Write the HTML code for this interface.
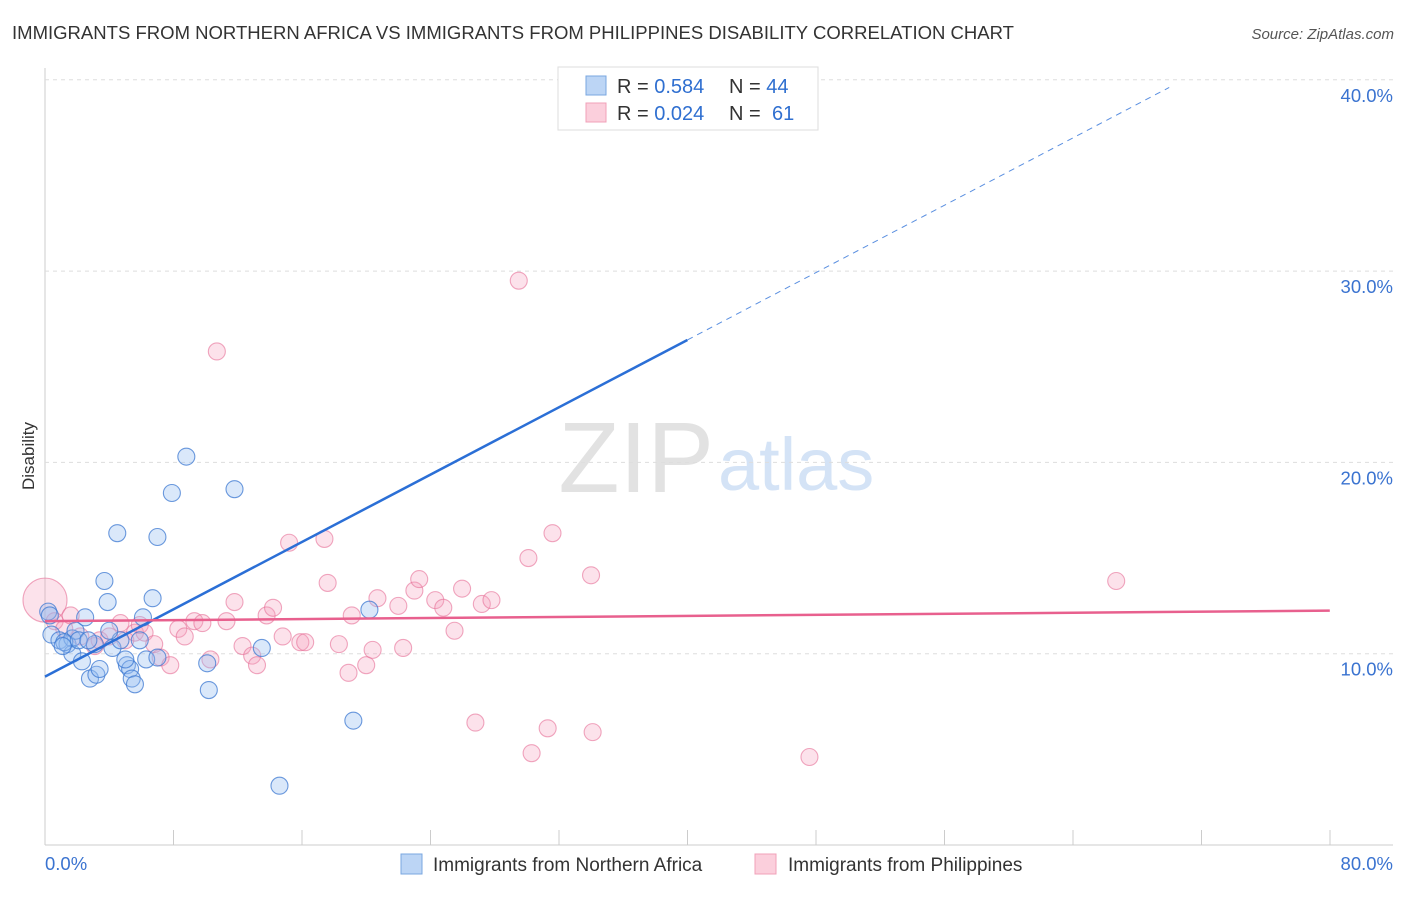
<!DOCTYPE html>
<html><head><meta charset="utf-8"><style>
body{margin:0;background:#fff;font-family:"Liberation Sans",sans-serif}
svg text{font-family:"Liberation Sans",sans-serif}
</style></head><body>
<svg id="c" width="1406" height="892">
<text x="12" y="39" font-size="18" fill="#333" textLength="1002" lengthAdjust="spacingAndGlyphs">IMMIGRANTS FROM NORTHERN AFRICA VS IMMIGRANTS FROM PHILIPPINES DISABILITY CORRELATION CHART</text>
<text x="1394" y="39" font-size="15" fill="#555" font-style="italic" text-anchor="end">Source: ZipAtlas.com</text>
<text x="34" y="456" font-size="17" fill="#333" transform="rotate(-90 34 456)" text-anchor="middle">Disability</text>
<text x="714" y="492" font-size="100" fill="#e2e2e2" text-anchor="end" font-family="Liberation Serif">ZIP</text>
<text x="718" y="490" font-size="74" fill="#d4e3f6">atlas</text>
<g id="grid"></g><g id="pts"></g><g id="lines"></g>
<g>
<rect x="558" y="67" width="260" height="63" fill="#fff" stroke="#ddd"/>
<rect x="586" y="76" width="20" height="19" fill="#bcd5f5" stroke="#7aa7e0"/>
<rect x="586" y="103" width="20" height="19" fill="#fbcfdc" stroke="#f0a0b8"/>
<text x="617" y="93" font-size="20" fill="#333">R = <tspan fill="#2f6fd0">0.584</tspan><tspan x="729">N = </tspan><tspan fill="#2f6fd0">44</tspan></text>
<text x="617" y="120" font-size="20" fill="#333">R = <tspan fill="#2f6fd0">0.024</tspan><tspan x="729">N = </tspan><tspan fill="#2f6fd0" x="772">61</tspan></text>
</g>
<g>
<rect x="401" y="854" width="21" height="20" fill="#bcd5f5" stroke="#7aa7e0"/>
<text x="433" y="871" font-size="19" fill="#333">Immigrants from Northern Africa</text>
<rect x="755" y="854" width="21" height="20" fill="#fbcfdc" stroke="#f0a0b8"/>
<text x="788" y="871" font-size="19" fill="#333">Immigrants from Philippines</text>
</g>
</svg>
<script>
const xTicks=[0,10,20,30,40,50,60,70,80];
const yTicks=[10,20,30,40];
const blueX=[0.2,0.4,0.9,1.4,1.7,1.9,2.5,1.7,2.3,2.8,3.2,3.4,3.1,3.7,3.9,4.2,4.5,4.7,5.1,5.3,5.4,5.6,5.9,6.1,6.3,6.7,7.0,7.0,7.9,8.8,10.1,10.2,11.8,13.5,14.6,19.2,20.2,1.2,2.1,1.1,5.0,2.7,4.0,0.3];
const blueY=[12.2,11.0,10.7,10.5,10.8,11.2,11.9,10.0,9.6,8.7,8.9,9.2,10.5,13.8,12.7,10.3,16.3,10.7,9.4,9.2,8.7,8.4,10.7,11.9,9.7,12.9,9.8,16.1,18.4,20.3,9.5,8.1,18.6,10.3,3.1,6.5,12.3,10.6,10.7,10.4,9.7,10.7,11.2,12.0];
const pinkX=[0.0,0.6,1.2,2.2,3.1,3.4,4.0,4.7,5.0,5.6,5.9,6.2,6.8,7.2,7.8,8.3,8.7,9.3,9.8,10.3,10.7,11.3,11.8,12.3,12.9,13.2,13.8,14.2,14.8,15.2,15.9,16.2,17.4,17.6,18.3,18.9,19.1,20.0,20.4,20.7,22.0,22.3,23.0,23.3,24.3,24.8,25.5,25.97,26.8,27.2,27.8,29.5,30.1,30.3,31.3,31.6,34.0,34.1,47.6,66.7,1.6];
const pinkY=[12.8,11.7,11.3,10.9,10.4,10.7,10.9,11.6,10.7,11.1,11.5,11.1,10.5,9.8,9.4,11.3,10.9,11.7,11.6,9.7,25.8,11.7,12.7,10.4,9.9,9.4,12.0,12.4,10.9,15.8,10.6,10.6,16.0,13.7,10.5,9.0,12.0,9.4,10.2,12.9,12.5,10.3,13.3,13.9,12.8,12.4,11.2,13.4,6.4,12.6,12.8,29.5,15.0,4.8,6.1,16.3,14.1,5.9,4.6,13.8,12.0];
const X=v=>45+v*16.06, Y=v=>845-v*19.13;
const NS="http://www.w3.org/2000/svg";
function mk(t,a,p){const e=document.createElementNS(NS,t);for(const k in a)e.setAttribute(k,a[k]);p.appendChild(e);return e;}
const grid=document.getElementById('grid'),pts=document.getElementById('pts'),lines=document.getElementById('lines');
mk('line',{x1:45,y1:68,x2:45,y2:845,stroke:'#ccc'},grid);
mk('line',{x1:45,y1:845,x2:1393,y2:845,stroke:'#ccc'},grid);
yTicks.forEach(v=>{
const l=mk('line',{x1:45,y1:Y(v),x2:1393,y2:Y(v),stroke:'#ddd','stroke-dasharray':'4,4'},grid);


const t=mk('text',{x:1393,y:Y(v)+22,'font-size':18.5,fill:'#3a73d0','text-anchor':'end'},grid);
t.textContent=v.toFixed(1)+'%';


});
for(let i=0;i<=10;i++){const x=45+i*128.5;const l=mk('line',{x1:x,y1:830,x2:x,y2:845,stroke:'#ccc'},grid);

}
[[0,'start',45],[80,'end',1393]].forEach(([v,a,x])=>{const t=mk('text',{x:x,y:870,'font-size':18.5,fill:'#3a73d0','text-anchor':a},grid);t.textContent=v.toFixed(1)+'%';

});
pinkX.forEach((x,i)=>{const c=mk('circle',{cx:X(x),cy:Y(pinkY[i]),r:i==0?22:8.5,fill:'rgba(246,160,190,0.3)',stroke:'rgba(230,110,150,0.6)','stroke-width':1.1},pts);

});
blueX.forEach((x,i)=>{const c=mk('circle',{cx:X(x),cy:Y(blueY[i]),r:8.5,fill:'rgba(150,190,240,0.35)',stroke:'rgba(60,120,210,0.75)','stroke-width':1.1},pts);

});
const b0=8.8,b1=0.44;
let l=mk('line',{x1:X(0),y1:Y(b0),x2:X(40),y2:Y(b0+b1*40),stroke:'#2b6fd6','stroke-width':2.5},lines);


l=mk('line',{x1:X(40),y1:Y(b0+b1*40),x2:X(70),y2:Y(b0+b1*70),stroke:'#5a8fe0','stroke-width':1,'stroke-dasharray':'6,5'},lines);


l=mk('line',{x1:X(0),y1:Y(11.7),x2:X(80),y2:Y(12.25),stroke:'#e8608e','stroke-width':2.5},lines);


</script>
</body></html>
